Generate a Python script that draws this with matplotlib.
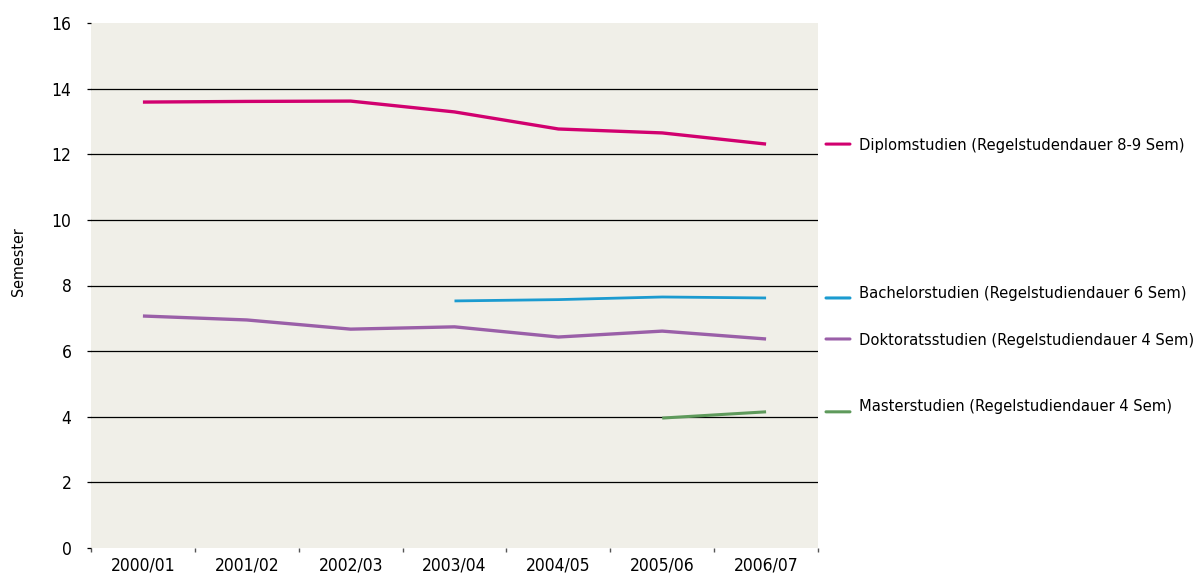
import numpy as np
import matplotlib.pyplot as plt
from matplotlib.ticker import FixedLocator

plt.rcParams['font.family'] = ['DejaVu Sans']
plt.rcParams['font.stretch'] = 'condensed'

years = ['2000/01', '2001/02', '2002/03', '2003/04', '2004/05', '2005/06', '2006/07']

diplom = [13.59, 13.61, 13.62, 13.29, 12.77, 12.65, 12.31]
bachelor = [None, None, None, 7.53, 7.57, 7.65, 7.62]
doktorat = [7.07, 6.95, 6.67, 6.74, 6.43, 6.61, 6.37]
master = [None, None, None, None, None, 3.96, 4.15]

labels = ['Diplomstudien (Regelstudendauer 8-9 Sem)',
          'Bachelorstudien (Regelstudiendauer 6 Sem)',
          'Doktoratsstudien (Regelstudiendauer 4 Sem)',
          'Masterstudien (Regelstudiendauer 4 Sem)']
colors = ['#d1006f', '#1b9bd0', '#9a5fa8', '#5e9a5b']
widths = [2.4, 2.0, 2.4, 2.2]
# vertical nudge of the right-hand labels, in pixels
nudges = [-1, 4, -2, 5]

fig = plt.figure(figsize=(12.02, 5.74), dpi=100)
ax = fig.add_axes([91 / 1202, 26 / 574, 727 / 1202, 525 / 574])
ax.set_facecolor('#f0efe8')
for s in ax.spines.values():
    s.set_visible(False)

x = np.arange(len(years))
for yv in range(2, 16, 2):
    ax.axhline(yv, color='black', lw=0.9, zorder=1)

series = [diplom, bachelor, doktorat, master]
for data, lab, col, lw, dy in zip(series, labels, colors, widths, nudges):
    y = np.array([np.nan if v is None else v for v in data], dtype=float)
    ax.plot(x, y, color=col, lw=lw, solid_capstyle='butt', zorder=3)
    last = y[~np.isnan(y)][-1]
    ax.annotate('', xy=(1.044, last), xytext=(1.011, last),
                xycoords=('axes fraction', 'data'),
                textcoords=('axes fraction', 'data'),
                arrowprops=dict(arrowstyle='-', color=col, lw=2.2,
                                shrinkA=0, shrinkB=0),
                annotation_clip=False)
    ax.annotate(lab, xy=(1.056, last), xycoords=('axes fraction', 'data'),
                xytext=(0, dy * 0.72), textcoords='offset points',
                va='center', ha='left', fontsize=11.8, annotation_clip=False)

ax.set_xlim(-0.5, len(years) - 0.5)
ax.set_ylim(0, 16)
ax.set_yticks(range(0, 17, 2))
ax.tick_params(axis='y', length=3, width=0.9, pad=11, labelsize=12.5)
ax.set_xticks(x)
ax.set_xticklabels(years)
ax.xaxis.set_minor_locator(FixedLocator(np.arange(-0.5, len(years), 1)))
ax.tick_params(axis='x', which='major', length=0, pad=6, labelsize=12.5)
ax.tick_params(axis='x', which='minor', length=3, width=1, color='#555555')
ax.set_ylabel('Semester', fontsize=11.5)
ax.yaxis.set_label_coords(-0.089, 0.545)

fig.savefig('out.png', dpi=100)
